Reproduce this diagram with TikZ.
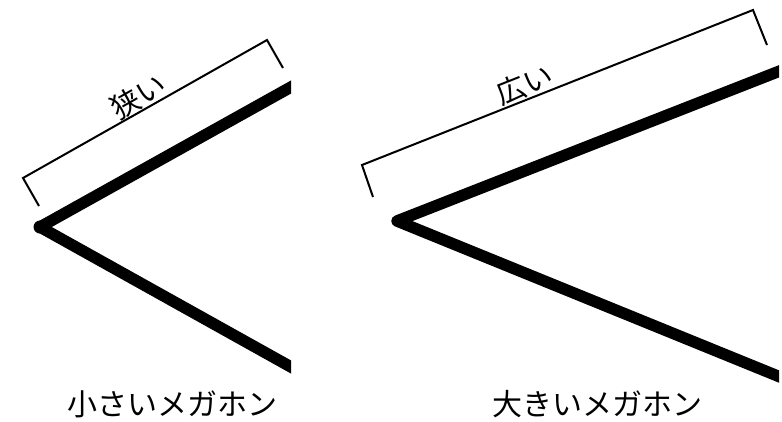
\documentclass[tikz,border=0pt]{standalone}
\usepackage{fontspec}
\usetikzlibrary{calc}
\newfontfamily\jpfont{Noto Sans CJK JP}
\begin{document}
\begin{tikzpicture}[x=1pt,y=-1pt,
  arm/.style={line width=11.5pt,line join=round},
  bracketline/.style={line width=2pt,line join=miter},
  lbl/.style={font=\jpfont\fontsize{30}{32}\selectfont,inner sep=0pt},
  toplbl/.style={font=\jpfont\fontsize{29}{31}\selectfont,inner sep=1pt,anchor=south}]
\useasboundingbox (0,0) rectangle (782,421);
% left megaphone
\coordinate (lv) at (40,227);
\coordinate (lu) at (300,82);
\coordinate (ld) at (300,372);
\begin{scope}
\clip (0,0) rectangle (291,421);
\draw[arm] (lu) -- (lv) -- (ld);
\end{scope}
\fill (lv) circle (6.5);
\coordinate (lb1) at (39,206);
\coordinate (lb2) at (23,178);
\coordinate (lb3) at (267,40);
\coordinate (lb4) at (283,68);
\draw[bracketline] (lb1) -- (lb2) -- (lb3) -- (lb4);
\node[toplbl,rotate=29.5] (narrow) at ($(lb2)!0.5!(lb3)$) {狭い};
% right megaphone
\coordinate (rv) at (397,221);
\coordinate (ru) at (790,67);
\coordinate (rd) at (790,381);
\begin{scope}
\clip (0,0) rectangle (779,421);
\draw[arm] (ru) -- (rv) -- (rd);
\end{scope}
\coordinate (rb1) at (373,197);
\coordinate (rb2) at (362,165);
\coordinate (rb3) at (753,10);
\coordinate (rb4) at (767,45);
\draw[bracketline] (rb1) -- (rb2) -- (rb3) -- (rb4);
\node[toplbl,rotate=21.6] (wide) at ($(rb2)!0.43!(rb3)$) {広い};
% labels
\node[lbl] (small) at (172,404) {小さいメガホン};
\node[lbl] (large) at (597,404) {大きいメガホン};
\end{tikzpicture}
\end{document}
